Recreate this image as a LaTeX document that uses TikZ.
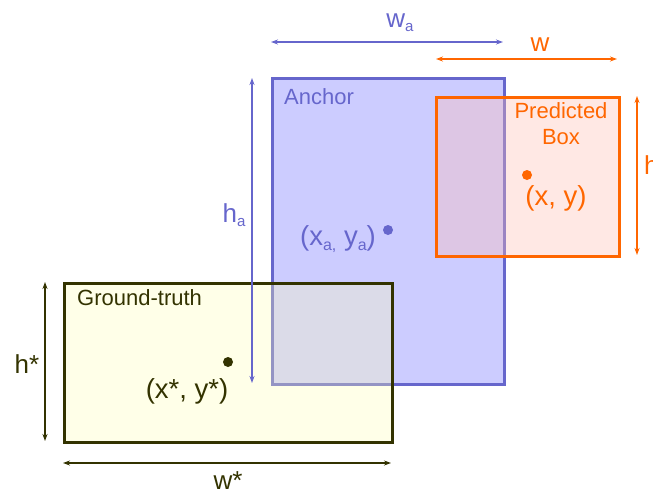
\documentclass[tikz,border=0pt]{standalone}
\usepackage{fontspec}
\setmainfont{Liberation Sans}
\usetikzlibrary{arrows.meta}
\definecolor{ablue}{HTML}{6666CC}
\definecolor{afill}{HTML}{CCCCFF}
\definecolor{porange}{HTML}{FF6600}
\definecolor{pfill}{RGB}{255,189,178}
\definecolor{gtdark}{HTML}{333300}
\definecolor{gtfill}{RGB}{255,255,180}
\newcommand\mysubs[1]{\raisebox{-0.35ex}{\scalebox{0.58}{#1}}}
\tikzset{
  dim/.style={line width=1.1pt,{Stealth[length=7pt,width=5pt]}-{Stealth[length=7pt,width=5pt]}},
  lbl/.style={inner sep=0pt,font=\fontsize{26}{28}\selectfont},
  boxlbl/.style={inner sep=0pt,font=\fontsize{22}{26}\selectfont},
  ptlbl/.style={inner sep=0pt,font=\fontsize{27.5}{30}\selectfont,anchor=base},
  ctr/.style={circle,inner sep=0pt,minimum size=10pt},
  rect/.style={line width=3.2pt,inner sep=0pt,anchor=north west},
}
\begin{document}
\begin{tikzpicture}[x=1pt,y=-1pt]
\useasboundingbox (0,0) rectangle (653,493);
% anchor
\node[rect,draw=ablue,fill=afill,minimum width=232pt,minimum height=306pt] (anc) at (271,77) {};
% ground truth
\node[rect,draw=gtdark,fill=gtfill,fill opacity=0.3,minimum width=328pt,minimum height=159pt] (gt) at (63,282) {};
% predicted
\node[rect,draw=porange,fill=pfill,fill opacity=0.35,minimum width=183pt,minimum height=159pt] (pred) at (435,96) {};
% texts in boxes
\node[boxlbl,text=ablue,anchor=base west] (ta) at (284,104) {Anchor};
\node[boxlbl,text=porange,anchor=base] (tp1) at (561,118) {Predicted};
\node[boxlbl,text=porange,anchor=base] (tp2) at (561,144) {Box};
\node[boxlbl,text=gtdark,anchor=base west] (tg) at (77,305) {Ground-truth};
% centers
\node[ctr,fill=ablue] (ca) at (388,230) {};
\node[ctr,fill=porange] (cp) at (527,175) {};
\node[ctr,fill=gtdark] (cg) at (228,362) {};
\node[ptlbl,text=ablue] (la) at (338,245) {(x\mysubs{a,} y\mysubs{a})};
\node[ptlbl,text=porange] (lp) at (556,205) {(x, y)};
\node[ptlbl,text=gtdark] (lg) at (187,398) {(x*, y*)};
% dimension arrows
\coordinate (wa1) at (271,42); \coordinate (wa2) at (503,42);
\draw[dim,ablue] (wa1) -- (wa2);
\node[lbl,text=ablue,anchor=base] (lwa) at (400,27) {w\mysubs{a}};
\coordinate (w1) at (436,59); \coordinate (w2) at (617,59);
\draw[dim,porange] (w1) -- (w2);
\node[lbl,text=porange,anchor=base] (lw) at (540,51) {w};
\coordinate (h1) at (637,96); \coordinate (h2) at (637,255);
\draw[dim,porange] (h1) -- (h2);
\node[lbl,text=porange,anchor=base west] (lh) at (644,174) {h};
\coordinate (ha1) at (252,78); \coordinate (ha2) at (252,383);
\draw[dim,ablue] (ha1) -- (ha2);
\node[lbl,text=ablue,anchor=base] (lha) at (234,222) {h\mysubs{a}};
\coordinate (hs1) at (45,282); \coordinate (hs2) at (45,441);
\draw[dim,gtdark] (hs1) -- (hs2);
\node[lbl,text=gtdark,anchor=base] (lhs) at (27,373) {h*};
\coordinate (ws1) at (63,463); \coordinate (ws2) at (391,463);
\draw[dim,gtdark] (ws1) -- (ws2);
\node[lbl,text=gtdark,anchor=base] (lws) at (228,489) {w*};
\end{tikzpicture}
\end{document}
